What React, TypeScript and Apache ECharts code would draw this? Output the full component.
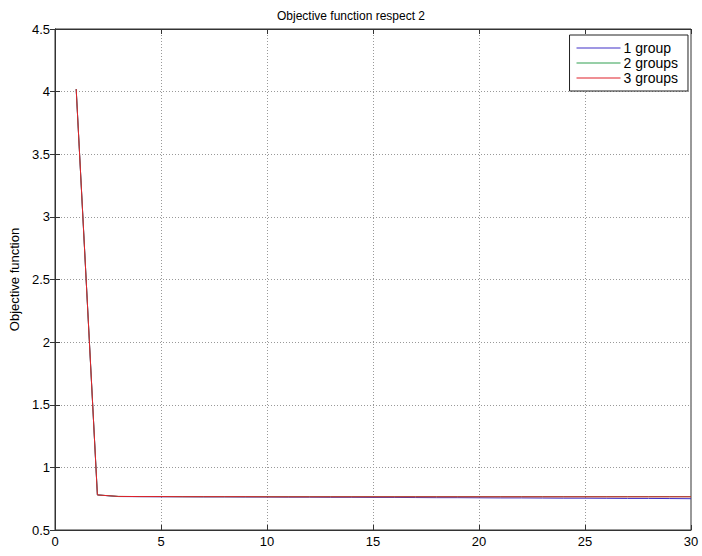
import React, { useEffect, useRef } from "react";
import * as echarts from "echarts";

const iterations = [1, 2, 3, 4, 5, 6, 7, 8, 9, 10, 11, 12, 13, 14, 15, 16, 17, 18, 19, 20, 21, 22, 23, 24, 25, 26, 27, 28, 29, 30];

const group1 = [4.02, 0.78, 0.767, 0.766, 0.765, 0.765, 0.764, 0.764, 0.763, 0.763, 0.762, 0.762, 0.761, 0.761, 0.76, 0.76, 0.759, 0.758, 0.758, 0.757, 0.756, 0.756, 0.755, 0.754, 0.754, 0.753, 0.752, 0.752, 0.751, 0.75];
const group2 = [4.02, 0.78, 0.768, 0.767, 0.767, 0.766, 0.766, 0.766, 0.766, 0.766, 0.766, 0.766, 0.766, 0.766, 0.766, 0.766, 0.766, 0.766, 0.766, 0.766, 0.766, 0.766, 0.766, 0.766, 0.766, 0.766, 0.766, 0.766, 0.766, 0.766];
const group3 = [4.02, 0.78, 0.768, 0.767, 0.767, 0.766, 0.766, 0.766, 0.766, 0.765, 0.765, 0.765, 0.765, 0.765, 0.765, 0.765, 0.765, 0.765, 0.765, 0.765, 0.765, 0.765, 0.765, 0.765, 0.765, 0.765, 0.765, 0.765, 0.765, 0.765];

const seriesNames = ["1 group", "2 groups", "3 groups"];
const seriesColors = ["#4030c8", "#30a050", "#e0202a"];

const FONT = "Liberation Sans, Arial, sans-serif";

export default function App() {
  const ref = useRef<HTMLDivElement>(null);
  useEffect(() => {
    if (!ref.current) return;
    const chart = echarts.init(ref.current, undefined, { renderer: "svg" });
    const values = [group1, group2, group3];
    chart.setOption({
      animation: false,
      backgroundColor: "#ffffff",
      title: {
        text: "Objective function respect 2",
        left: "center",
        top: 5,
        textStyle: { fontFamily: FONT, fontSize: 12, fontWeight: "normal", color: "#000" },
      },
      legend: {
        orient: "vertical",
        right: 14,
        top: 35,
        data: seriesNames.map((name, i) => ({ name, itemStyle: { color: seriesColors[i] } })),
        icon: "rect",
        itemWidth: 44,
        itemHeight: 1,
        itemGap: 1,
        padding: [6, 10, 6, 7],
        borderColor: "#222",
        borderWidth: 1,
        backgroundColor: "#fff",
        textStyle: { fontFamily: FONT, fontSize: 14, color: "#000", padding: [0, 0, 0, -2] },
      },
      grid: {
        left: 53,
        right: 11,
        top: 29,
        bottom: 26,
        show: true,
        borderColor: "#333",
        borderWidth: 1,
      },
      xAxis: [
        {
          type: "value",
          min: 0,
          max: 30,
          interval: 5,
          axisLine: { show: true, lineStyle: { color: "#333" } },
          axisTick: { show: true, inside: true, length: 5, lineStyle: { color: "#333" } },
          axisLabel: { fontFamily: FONT, fontSize: 13, color: "#000", margin: 5 },
          splitLine: { show: true, lineStyle: { color: "#999", type: [1, 2] } },
        },
        {
          type: "value",
          position: "top",
          min: 0,
          max: 30,
          interval: 5,
          axisLine: { show: true, lineStyle: { color: "#333" } },
          axisTick: { show: true, inside: true, length: 5, lineStyle: { color: "#333" } },
          axisLabel: { show: false },
          splitLine: { show: false },
        },
      ],
      yAxis: [
        {
          type: "value",
          min: 0.5,
          max: 4.5,
          interval: 0.5,
          name: "Objective function",
          nameLocation: "middle",
          nameGap: 34,
          nameTextStyle: { fontFamily: FONT, fontSize: 13, color: "#000" },
          axisLine: { show: true, lineStyle: { color: "#333" } },
          axisTick: { show: true, inside: true, length: 5, lineStyle: { color: "#333" } },
          axisLabel: { fontFamily: FONT, fontSize: 13, color: "#000", margin: 5 },
          splitLine: { show: true, lineStyle: { color: "#999", type: [1, 2] } },
        },
        {
          type: "value",
          position: "right",
          min: 0.5,
          max: 4.5,
          interval: 0.5,
          axisLine: { show: true, lineStyle: { color: "#333" } },
          axisTick: { show: true, inside: true, length: 5, lineStyle: { color: "#333" } },
          axisLabel: { show: false },
          splitLine: { show: false },
        },
      ],
      series: seriesNames.map((name, i) => ({
        name,
        type: "line",
        xAxisIndex: 0,
        yAxisIndex: 0,
        showSymbol: false,
        symbol: "none",
        itemStyle: { color: seriesColors[i] },
        lineStyle: { width: 1, color: seriesColors[i] },
        data: iterations.map((x, j) => [x, values[i][j]]),
        z: 2 + i,
      })),
    });
    return () => chart.dispose();
  }, []);
  return (
    <div
      ref={ref}
      style={{ position: "fixed", left: 0, top: 0, width: 702, height: 556 }}
    />
  );
}
